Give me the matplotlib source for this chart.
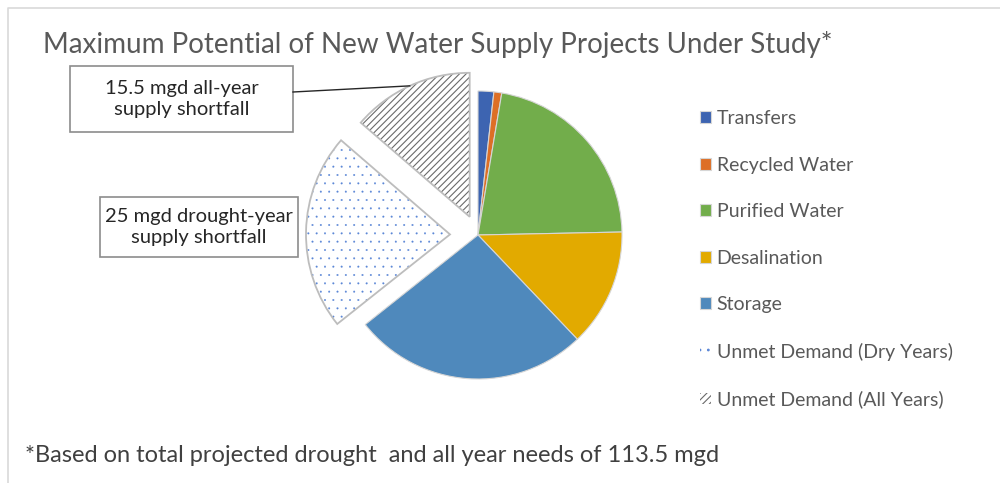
import matplotlib
matplotlib.use("Agg")
import matplotlib.pyplot as plt
from matplotlib.patches import Wedge, Rectangle
import numpy as np

# chart data (mgd)
labels = ["Transfers", "Recycled Water", "Purified Water", "Desalination", "Storage",
          "Unmet Demand (Dry Years)", "Unmet Demand (All Years)"]
mgd = [2, 1, 25, 15, 30, 25, 15.5]
colors = ["#3d64b1", "#dd6f26", "#72ad4b", "#e2aa00", "#4f89bc", "white", "white"]
hatches = [None, None, None, None, None, "..", "/////"]
hatch_colors = [None, None, None, None, None, "#5a86d6", "#6a6a6a"]
hatch_widths = [None, None, None, None, None, 0.2, 0.8]
explode = [0, 0, 0, 0, 0, 28, 20]   # pixels

title = "Maximum Potential of New Water Supply Projects Under Study*"
footnote = "*Based on total projected drought  and all year needs of 113.5 mgd"
callout_all = "15.5 mgd all-year\nsupply shortfall"
callout_dry = "25 mgd drought-year\nsupply shortfall"

plt.rcParams['font.family'] = ['Lato', 'DejaVu Sans']
plt.rcParams['hatch.linewidth'] = 0.8

W, H = 1000, 483
fig = plt.figure(figsize=(W / 100, H / 100), dpi=100)
ax = fig.add_axes([0, 0, 1, 1])

wedges, _ = ax.pie(mgd, colors=colors, explode=explode, startangle=90, counterclock=False,
                   center=(478, H - 235), radius=144, frame=True,
                   wedgeprops=dict(edgecolor='#d6d6d6', linewidth=0.8))
ax.set_xlim(0, W)
ax.set_ylim(0, H)
ax.set_aspect('equal')
ax.axis('off')

# patterned slices: hatch in its own colour, grey outline on top
for w, h, hc, hw in zip(wedges, hatches, hatch_colors, hatch_widths):
    if h is None:
        continue
    w.set_hatch(h)
    w.set_edgecolor(hc)
    w.set_linewidth(0)
    try:
        w.set_hatch_linewidth(hw)
    except AttributeError:
        pass
    ax.add_patch(Wedge(w.center, w.r, w.theta1, w.theta2, fill=False,
                       edgecolor='#bdbdbd', linewidth=1.3))

# outer frame (only top and left are inside the picture)
ax.plot([7.5, 7.5, W], [0, H - 7.5, H - 7.5], color='#d9d9d9', lw=1.2, clip_on=False)

fig.text(43 / W, 1 - 53 / H, title, fontsize=20, color='#595959', va='baseline')
fig.text(25 / W, 1 - 462 / H, footnote, fontsize=17, color='#404040', va='baseline')

# callout boxes
for (x0, y0, x1, y1), txt in [((70, 66, 293, 132), callout_all), ((100, 197, 298, 257), callout_dry)]:
    ax.add_patch(Rectangle((x0, H - y1), x1 - x0, y1 - y0, facecolor='white',
                           edgecolor='#8c8c8c', lw=1.2))
    ax.text((x0 + x1) / 2, H - (y0 + y1) / 2, txt, ha='center', va='center',
            fontsize=14.5, color='#262626', linespacing=1.35)

# leader line to middle of the all-year slice
wa = wedges[6]
tm = np.deg2rad((wa.theta1 + wa.theta2) / 2)
ax.plot([293, wa.center[0] + wa.r * np.cos(tm)], [H - 92, wa.center[1] + wa.r * np.sin(tm)],
        color='#262626', lw=1.0)

leg = ax.legend(wedges, labels, loc='upper left', bbox_to_anchor=(700 / W, 1 - 110 / H),
                frameon=False, fontsize=14, labelspacing=1.52, handlelength=0.55,
                handleheight=0.55, handletextpad=0.3, borderpad=0, borderaxespad=0)
for t in leg.get_texts():
    t.set_color('#595959')

fig.savefig("out.png", dpi=100)
